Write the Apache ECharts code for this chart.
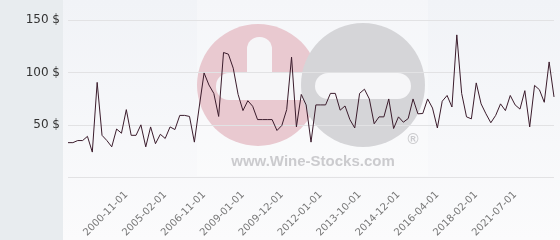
<!DOCTYPE html>
<html><head><meta charset="utf-8">
<script src="https://cdn.jsdelivr.net/npm/echarts@6/dist/echarts.min.js"></script>
<style>html,body{margin:0;padding:0;background:#fff}#c{width:560px;height:240px}</style>
</head><body><div id="c"></div>
<script>
var categories = [
 '1995-06-01','1996-01-01','1996-06-01','1997-01-01','1997-06-01','1997-11-01','1998-03-01','1998-08-01','1998-12-01','1999-04-01','1999-09-01','2000-03-01','2000-11-01',
 '2001-05-01','2001-12-01','2002-06-01','2003-01-01','2003-07-01','2004-02-01','2004-08-01','2005-02-01',
 '2005-05-01','2005-07-01','2005-10-01','2006-01-01','2006-04-01','2006-06-01','2006-09-01','2006-11-01',
 '2007-02-01','2007-05-01','2007-08-01','2007-11-01','2008-03-01','2008-06-01','2008-10-01','2009-01-01',
 '2009-02-01','2009-03-01','2009-05-01','2009-06-01','2009-08-01','2009-09-01','2009-10-01','2009-12-01',
 '2010-03-01','2010-06-01','2010-09-01','2011-01-01','2011-04-01','2011-07-01','2011-10-01','2012-01-01',
 '2012-04-01','2012-06-01','2012-09-01','2012-12-01','2013-03-01','2013-05-01','2013-08-01','2013-10-01',
 '2013-12-01','2014-02-01','2014-04-01','2014-06-01','2014-07-01','2014-09-01','2014-10-01','2014-12-01',
 '2015-02-01','2015-04-01','2015-06-01','2015-08-01','2015-10-01','2015-12-01','2016-02-01','2016-04-01',
 '2016-07-01','2016-10-01','2017-01-01','2017-04-01','2017-07-01','2017-09-01','2017-11-01','2018-02-01',
 '2018-08-01','2019-02-01','2019-07-01','2019-12-01','2020-05-01','2020-10-01','2021-02-01','2021-07-01',
 '2021-11-01','2022-03-01','2022-07-01','2022-11-01','2023-03-01','2023-07-01','2023-11-01','2024-03-01'
];
var prices = [
 33,33,35,35,39,24,90.5,40,35,29,46,42,64.5,40,40,50,29,48,32,41,37,48,45.5,59,59,58,33.5,67,99.5,88,
 80,58,119,117.4,104,79,63.6,73,67.7,55,55,55,55,44.6,49.4,64.5,114.6,48,79,69,
 33.5,69,69,69,80,80,64,68,55,47,80,84,74.7,51,57.6,57.6,74.7,46.5,57.6,52.5,
 56,74.7,60.5,60.8,74.7,66,47,72.5,78,67,135.8,80,57.6,55.7,90,70,60.5,52,59,70,
 63.6,78,69,65,82.6,48,87.6,83.5,71.5,110,76.6
];
var yTicks = [0, 50, 100, 150];
var labelIdx = [12,20,28,36,44,52,60,68,76,84,92];

var chart = echarts.init(document.getElementById('c'), null, {renderer:'canvas'});
chart.setOption({
  animation:false,
  graphic:[
    {type:'rect', z:-20, shape:{x:0,y:0,width:63,height:240}, style:{fill:'#e8ecef'}},
    {type:'rect', z:-20, shape:{x:63,y:0,width:497,height:240}, style:{fill:new echarts.graphic.LinearGradient(0,0,0,1,[{offset:0,color:'#f1f3f7'},{offset:1,color:'#fbfbfc'}])}},
    {type:'rect', z:-19, shape:{x:197,y:0,width:231,height:176}, style:{fill:'rgba(255,255,255,0.3)'}},
    {type:'circle', z:-18, shape:{cx:258,cy:85,r:61}, style:{fill:'#e9c9d0'}},
    {type:'rect', z:-17, shape:{x:247,y:37,width:25,height:50,r:[12,12,0,0]}, style:{fill:'#f6f6f8'}},
    {type:'rect', z:-17, shape:{x:216,y:73,width:98,height:27,r:[13,0,0,13]}, style:{fill:'#f6f6f8'}},
    {type:'circle', z:-16, shape:{cx:363,cy:85,r:62}, style:{fill:'#d5d5d8'}},
    {type:'rect', z:-15, shape:{x:315,y:73,width:96,height:26,r:13}, style:{fill:'#f6f6f8'}},
    {type:'text', z:-15, style:{x:313,y:162,text:'www.Wine-Stocks.com',fill:'#cbcbce',font:'bold 15px "Liberation Sans", Arial, sans-serif',textAlign:'center',textVerticalAlign:'middle'}},
    {type:'text', z:-15, style:{x:413,y:140,text:'®',fill:'#cbcbce',font:'bold 15px "Liberation Sans", Arial, sans-serif',textAlign:'center',textVerticalAlign:'middle'}}
  ],
  grid:{left:68,right:6,top:20,bottom:62},
  xAxis:{
    type:'category', data:categories, boundaryGap:false,
    axisLine:{show:false}, axisTick:{show:false},
    axisLabel:{
      interval:function(i){return labelIdx.indexOf(i)>=0;},
      rotate:45, color:'#777', fontSize:10, margin:16,
      fontFamily:'"DejaVu Sans", sans-serif'
    },
    splitLine:{show:false}
  },
  yAxis:{
    type:'value', min:yTicks[0], max:yTicks[yTicks.length-1], interval:50,
    axisLine:{show:false}, axisTick:{show:false},
    axisLabel:{color:'#333', fontSize:12, margin:8, fontFamily:'"DejaVu Sans", sans-serif',
      formatter:function(v){return v===0?'':v+' $';}},
    splitLine:{lineStyle:{color:'#e2e2e4',width:1}}
  },
  series:[{
    type:'line', data:prices, symbol:'none', smooth:false,
    lineStyle:{color:'#3b1c2c', width:1}
  }]
});
</script></body></html>
